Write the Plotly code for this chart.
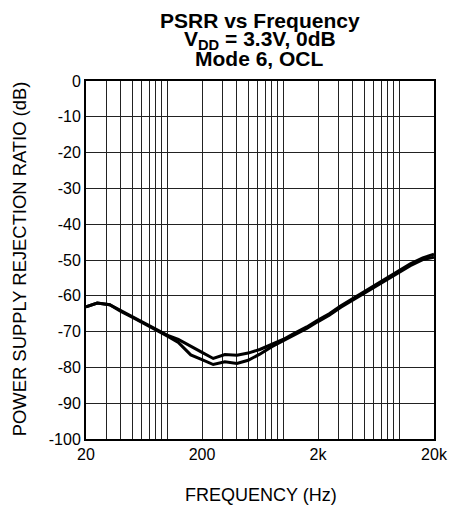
import numpy as np
import plotly.graph_objects as go

freq = [20, 25, 32, 40, 50, 63, 80, 100, 125, 160, 200, 250, 315, 400, 500, 630,
        800, 1000, 1250, 1600, 2000, 2500, 3150, 4000, 5000, 6300, 8000, 10000,
        12500, 16000, 20000]

psrr_a = [-63.1, -62.0, -62.5, -64.2, -65.8, -67.5, -69.3, -71.0, -72.2, -74.0,
          -75.8, -77.5, -76.4, -76.6, -76.0, -75.0, -73.5, -72.2, -70.5, -68.7,
          -66.8, -65.0, -62.8, -60.8, -58.7, -57.0, -55.0, -53.0, -51.1, -49.4, -48.4]

psrr_b = [-63.1, -62.0, -62.5, -64.4, -66.0, -67.7, -69.5, -71.2, -73.0, -76.5,
          -77.8, -79.2, -78.4, -78.9, -78.0, -76.3, -74.2, -72.6, -70.9, -69.1,
          -67.2, -65.4, -63.2, -61.2, -59.2, -57.5, -55.5, -53.5, -51.6, -49.9, -49.2]

x_tickvals = [20, 200, 2000, 20000]
x_ticktext = ["20", "200", "2k", "20k"]
x_minor = [30, 40, 50, 60, 70, 80, 90, 100,
           300, 400, 500, 600, 700, 800, 900, 1000,
           3000, 4000, 5000, 6000, 7000, 8000, 9000, 10000]
y_tickvals = list(range(0, -101, -10))
y_ticktext = [str(v) for v in y_tickvals]

fig = go.Figure()
for ys in (psrr_a, psrr_b):
    fig.add_trace(go.Scatter(x=freq, y=ys, mode="lines",
                             line=dict(color="black", width=3),
                             showlegend=False, hoverinfo="skip"))

FONT = "Liberation Sans, Arial, Helvetica, sans-serif"
OFF = 8  # default page body margin
W, H = 460 - OFF, 508 - OFF
PL, PR, PT, PB = 86, 443, 81, 439  # plot area in page pixels
L, R, T, B = PL - OFF, W - (PR - OFF), PT - OFF, H - (PB - OFF)
pw, ph = W - L - R, H - T - B

def px_y(p):
    return (PB - p) / ph

def px_x(p):
    return (p - PL) / pw

fig.update_layout(
    width=W, height=H,
    margin=dict(l=L, r=R, t=T, b=B, pad=0),
    paper_bgcolor="white", plot_bgcolor="white",
    font=dict(family=FONT, color="black", size=16),
    xaxis=dict(type="log", range=[np.log10(20), np.log10(20000)],
               tickmode="array", tickvals=x_tickvals, ticktext=x_ticktext,
               showgrid=True, gridcolor="#222", gridwidth=1,
               minor=dict(tickmode="array", tickvals=x_minor, showgrid=True,
                          gridcolor="#222", gridwidth=1, ticks=""),
               showline=True, linecolor="black", linewidth=2, mirror=True,
               ticks="", tickfont=dict(size=16), zeroline=False),
    yaxis=dict(range=[-100, 0], tickmode="array", tickvals=y_tickvals,
               ticktext=y_ticktext,
               showgrid=True, gridcolor="#222", gridwidth=1,
               showline=True, linecolor="black", linewidth=2, mirror=True,
               ticks="", tickfont=dict(size=16), zeroline=False),
)

title_lines = ["PSRR vs Frequency", "V<sub>DD</sub> = 3.3V, 0dB", "Mode 6, OCL"]
title_y = [20, 40, 59]
for txt, yp in zip(title_lines, title_y):
    fig.add_annotation(text="<b>" + txt + "</b>", xref="paper", yref="paper",
                       x=px_x(264), y=px_y(yp), xanchor="center", yanchor="middle",
                       showarrow=False, font=dict(size=21, family=FONT, color="black"))

fig.add_annotation(text="FREQUENCY (Hz)", xref="paper", yref="paper",
                   x=px_x(266), y=px_y(495), xanchor="center", yanchor="middle",
                   showarrow=False, font=dict(size=18, family=FONT, color="black"))
fig.add_annotation(text="POWER SUPPLY REJECTION RATIO (dB)", xref="paper", yref="paper",
                   x=px_x(17.5), y=px_y(259), xanchor="center", yanchor="middle",
                   textangle=-90, showarrow=False,
                   font=dict(size=18.4, family=FONT, color="black"))

fig.write_html("out.html", config={"displayModeBar": False})
